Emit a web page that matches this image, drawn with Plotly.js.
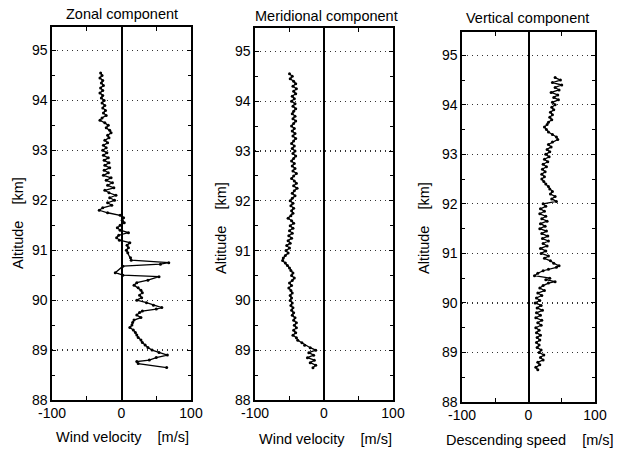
<!DOCTYPE html>
<html>
<head>
<meta charset="utf-8">
<script src="https://cdn.plot.ly/plotly-3.0.1.min.js"></script>
<style>html,body{margin:0;padding:0;background:#fff;}#chart{width:617px;height:454px;}</style>
</head>
<body>
<div id="chart"></div>
<script>
// ---- Data (altitude in km, velocity in m/s) ----
const zonalAlt = [94.55,94.5,94.45,94.4,94.35,94.3,94.25,94.2,94.15,94.1,94.05,94.0,93.95,93.9,93.85,93.8,93.75,93.7,93.65,93.6,93.55,93.5,93.45,93.4,93.35,93.3,93.25,93.2,93.15,93.1,93.05,93.0,92.95,92.9,92.85,92.8,92.75,92.7,92.65,92.6,92.55,92.5,92.45,92.4,92.35,92.3,92.25,92.2,92.15,92.1,92.05,92.0,91.95,91.9,91.85,91.8,91.75,91.7,91.65,91.6,91.55,91.5,91.45,91.4,91.35,91.3,91.25,91.2,91.15,91.1,91.05,91.0,90.95,90.85,90.8,90.75,90.72,90.68,90.55,90.5,90.47,90.4,90.35,90.3,90.25,90.2,90.15,90.1,90.05,90.0,89.95,89.9,89.85,89.82,89.78,89.75,89.7,89.65,89.6,89.55,89.5,89.45,89.4,89.35,89.3,89.25,89.2,89.15,89.1,89.05,89.0,88.95,88.9,88.85,88.8,88.77,88.73,88.65];
const zonalVel = [-30,-28,-31,-27,-29,-26,-30,-27,-31,-27,-29,-25,-28,-24,-27,-23,-26,-22,-28,-31,-24,-19,-22,-17,-15,-20,-18,-24,-20,-26,-22,-27,-21,-26,-19,-25,-18,-24,-17,-25,-19,-26,-15,-22,-13,-20,-11,-24,-18,-8,-17,-10,-20,-14,-27,-32,-20,-2,3,1,4,-2,-6,-2,10,-4,-7,-3,12,8,10,7,9,13,14,68,56,2,-9,2,54,38,22,18,24,28,30,26,29,22,36,46,58,50,30,26,22,28,18,16,15,12,17,20,22,24,28,30,34,38,44,54,66,50,40,22,24,65];

const meridAlt = [94.55,94.5,94.45,94.4,94.35,94.3,94.25,94.2,94.15,94.1,94.05,94.0,93.95,93.9,93.85,93.8,93.75,93.7,93.65,93.6,93.55,93.5,93.45,93.4,93.35,93.3,93.25,93.2,93.15,93.1,93.05,93.0,92.95,92.9,92.85,92.8,92.75,92.7,92.65,92.6,92.55,92.5,92.45,92.4,92.35,92.3,92.25,92.2,92.15,92.1,92.05,92.0,91.95,91.9,91.85,91.8,91.75,91.7,91.65,91.6,91.55,91.5,91.45,91.4,91.35,91.3,91.25,91.2,91.15,91.1,91.05,91.0,90.95,90.9,90.85,90.8,90.75,90.7,90.65,90.6,90.55,90.5,90.45,90.4,90.35,90.3,90.25,90.2,90.15,90.1,90.05,90.0,89.95,89.9,89.85,89.8,89.75,89.7,89.65,89.6,89.55,89.5,89.45,89.4,89.35,89.3,89.25,89.2,89.15,89.1,89.05,89.0,88.95,88.9,88.85,88.8,88.75,88.7,88.65];
const meridVel = [-50,-46,-49,-44,-41,-45,-40,-44,-41,-46,-43,-47,-42,-45,-41,-44,-46,-42,-45,-41,-44,-47,-43,-46,-42,-45,-41,-44,-47,-43,-46,-42,-45,-41,-44,-47,-43,-46,-42,-45,-40,-44,-47,-43,-40,-44,-39,-43,-46,-42,-46,-49,-45,-48,-44,-47,-45,-48,-52,-47,-44,-49,-45,-50,-46,-51,-47,-52,-49,-54,-50,-55,-52,-56,-59,-60,-56,-53,-50,-48,-45,-47,-43,-46,-50,-47,-51,-48,-46,-49,-47,-49,-46,-48,-45,-47,-44,-46,-42,-44,-40,-43,-40,-44,-41,-45,-40,-38,-32,-28,-20,-12,-22,-15,-24,-14,-20,-12,-16];

const vertAlt = [94.55,94.5,94.45,94.4,94.35,94.3,94.25,94.2,94.15,94.1,94.05,94.0,93.95,93.9,93.85,93.8,93.75,93.7,93.65,93.6,93.55,93.5,93.45,93.4,93.35,93.3,93.25,93.2,93.15,93.1,93.05,93.0,92.95,92.9,92.85,92.8,92.75,92.7,92.65,92.6,92.55,92.5,92.45,92.4,92.35,92.3,92.25,92.2,92.15,92.1,92.05,92.0,91.95,91.9,91.85,91.8,91.75,91.7,91.65,91.6,91.55,91.5,91.45,91.4,91.35,91.3,91.25,91.2,91.15,91.1,91.05,91.0,90.95,90.9,90.85,90.8,90.75,90.72,90.68,90.65,90.6,90.55,90.5,90.47,90.43,90.4,90.35,90.3,90.25,90.2,90.15,90.1,90.05,90.0,89.95,89.9,89.85,89.8,89.75,89.7,89.65,89.6,89.55,89.5,89.45,89.4,89.35,89.3,89.25,89.2,89.15,89.1,89.05,89.0,88.95,88.9,88.85,88.8,88.75,88.7,88.65];
const vertVel = [40,48,36,50,40,46,34,44,38,45,36,40,35,38,33,36,32,35,30,28,24,27,30,36,42,44,36,30,34,28,32,26,31,24,29,22,27,21,25,20,24,20,23,26,30,32,36,33,40,35,42,22,26,18,24,17,26,20,28,18,25,17,27,20,29,21,30,22,28,18,26,19,30,24,33,38,46,42,30,22,14,9,32,26,40,30,22,17,24,14,20,12,17,10,19,13,21,12,18,11,20,14,19,11,16,12,18,13,17,12,16,13,19,16,23,18,22,14,17,11,14];

const panelTitles = ["Zonal component", "Meridional component", "Vertical component"];
const xTitles = ["Wind velocity    [m/s]", "Wind velocity    [m/s]", "Descending speed    [m/s]"];
const yTitle = "Altitude    [km]";
const xTickVals = [-100, 0, 100];
const yTickVals = [88, 89, 90, 91, 92, 93, 94, 95];

// ---- Layout helpers ----
const W = 617, H = 454;
const px = x => x / W;
const py = y => 1 - y / H;

const series = [[zonalVel, zonalAlt], [meridVel, meridAlt], [vertVel, vertAlt]];
const boxes = [
  {l: 52, r: 191, t: 27, b: 400, title: [122, 14], xt: [122, 437], yt: [18, 223]},
  {l: 255, r: 393, t: 28, b: 400, title: [326, 16], xt: [325, 439], yt: [221, 228]},
  {l: 462, r: 595, t: 32, b: 402, title: [527, 18], xt: [530, 440], yt: [424, 228]}
];

const FONT = "Liberation Sans, Arial, sans-serif";
const traces = [];
const layout = {
  width: W, height: H,
  margin: {l: 0, r: 0, t: 0, b: 0},
  paper_bgcolor: "#fff", plot_bgcolor: "#fff",
  showlegend: false,
  font: {family: FONT, color: "#000", size: 14},
  annotations: []
};

series.forEach((s, i) => {
  const n = i + 1;
  const xa = n === 1 ? "x" : "x" + n;
  const ya = n === 1 ? "y" : "y" + n;
  traces.push({
    x: s[0], y: s[1], xaxis: xa, yaxis: ya,
    type: "scatter", mode: "lines+markers",
    line: {color: "#000", width: 1.3},
    marker: {color: "#000", size: 3}
  });
  const b = boxes[i];
  const xKey = n === 1 ? "xaxis" : "xaxis" + n;
  const yKey = n === 1 ? "yaxis" : "yaxis" + n;
  layout[xKey] = {
    domain: [px(b.l), px(b.r)], anchor: ya,
    range: [-100, 100], tickvals: xTickVals, ticktext: ["-100", "0", "100"],
    ticks: "inside", ticklen: 4, tickcolor: "#000",
    minor: {dtick: 50, tick0: 0, ticks: "inside", ticklen: 4, tickcolor: "#000", showgrid: false},
    showline: true, linecolor: "#000", linewidth: 1.6, mirror: "ticks",
    showgrid: false,
    zeroline: true, zerolinecolor: "#000", zerolinewidth: 2,
    tickfont: {family: FONT, size: 14, color: "#000"},
    fixedrange: true
  };
  layout[yKey] = {
    domain: [py(b.b), py(b.t)], anchor: xa,
    range: [88, 95.47], tickvals: yTickVals,
    ticks: "inside", ticklen: 4, tickcolor: "#000",
    minor: {dtick: 0.5, tick0: 88, ticks: "inside", ticklen: 3, tickcolor: "#000", showgrid: false},
    showline: true, linecolor: "#000", linewidth: 1.6, mirror: "ticks",
    showgrid: true, gridcolor: "#333", griddash: "1px,4px", gridwidth: 1.2,
    zeroline: false,
    tickfont: {family: FONT, size: 14, color: "#000"},
    fixedrange: true
  };
  layout.annotations.push({
    xref: "paper", yref: "paper", x: px(b.title[0]), y: py(b.title[1]),
    text: panelTitles[i], showarrow: false, xanchor: "center", yanchor: "middle",
    font: {family: FONT, size: 14.5, color: "#000"}
  });
  layout.annotations.push({
    xref: "paper", yref: "paper", x: px(b.xt[0]), y: py(b.xt[1]),
    text: xTitles[i], showarrow: false, xanchor: "center", yanchor: "middle",
    font: {family: FONT, size: 14.5, color: "#000"}
  });
  layout.annotations.push({
    xref: "paper", yref: "paper", x: px(b.yt[0]), y: py(b.yt[1]),
    text: yTitle, showarrow: false, xanchor: "center", yanchor: "middle", textangle: -90,
    font: {family: FONT, size: 14.5, color: "#000"}
  });
});

Plotly.newPlot("chart", traces, layout, {displayModeBar: false, staticPlot: true});
</script>
</body>
</html>
